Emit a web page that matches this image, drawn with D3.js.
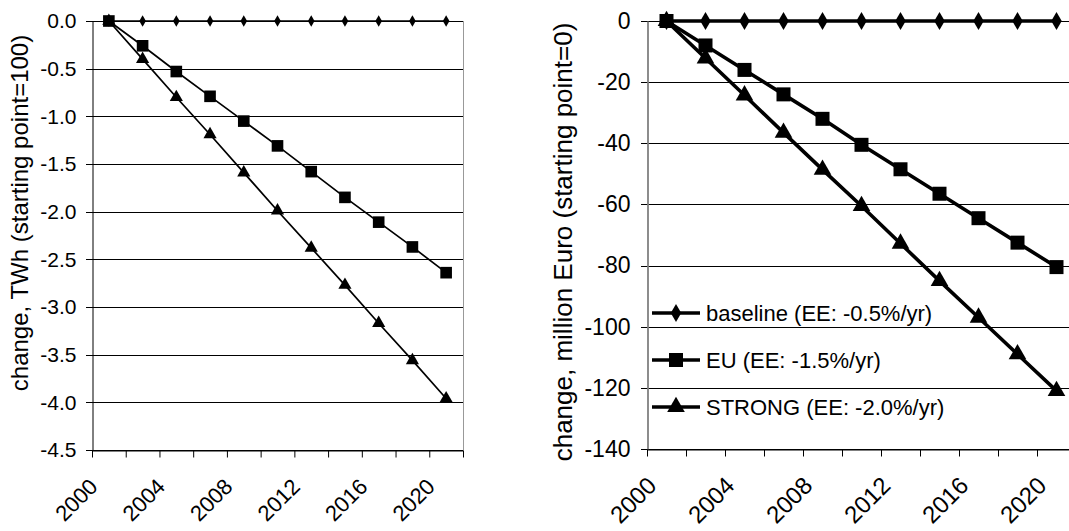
<!DOCTYPE html>
<html>
<head>
<meta charset="utf-8">
<script src="https://cdn.jsdelivr.net/npm/d3@7"></script>
<style>
  body { margin: 0; background: #fff; }
  text { font-family: "Liberation Sans", Arial, sans-serif; fill: #000; }
</style>
</head>
<body>
<div id="chart"></div>
<script>
let years = [2001, 2003, 2005, 2007, 2009, 2011, 2013, 2015, 2017, 2019, 2021]
let xTicks = [2000, 2002, 2004, 2006, 2008, 2010, 2012, 2014, 2016, 2018, 2020, 2022]
let xLabels = [2000, 2004, 2008, 2012, 2016, 2020]

// left panel: electricity, TWh
let twhBaseline = [0, 0, 0, 0, 0, 0, 0, 0, 0, 0, 0]
let twhEU = [0, -0.26, -0.53, -0.79, -1.05, -1.31, -1.58, -1.85, -2.11, -2.37, -2.64]
let twhStrong = [0, -0.40, -0.80, -1.19, -1.59, -1.99, -2.38, -2.77, -3.17, -3.56, -3.96]
let twhTicks = [0, -0.5, -1, -1.5, -2, -2.5, -3, -3.5, -4, -4.5]

// right panel: cost, million Euro
let eurBaseline = [0, 0, 0, 0, 0, 0, 0, 0, 0, 0, 0]
let eurEU = [0, -8, -16, -24, -32, -40.5, -48.5, -56.5, -64.5, -72.5, -80.5]
let eurStrong = [0, -12.2, -24.3, -36.5, -48.6, -60.5, -72.8, -85, -97, -109, -121]
let eurTicks = [0, -20, -40, -60, -80, -100, -120, -140]

let seriesNames = ["baseline (EE: -0.5%/yr)", "EU (EE: -1.5%/yr)", "STRONG (EE: -2.0%/yr)"]
let markers = [d3.symbolDiamond, d3.symbolSquare, d3.symbolTriangle]

let width = 1069
let height = 531
let svg = d3.select("#chart")
    .append("svg")
    .attr("width", width)
    .attr("height", height)

function hyphen(fmt) {
    return d => fmt(d).replace("\u2212", "-")
}

function drawPanel(opt) {
    let x = d3.scaleLinear().domain([2000, 2022]).range([opt.left, opt.right])
    let y = d3.scaleLinear().domain(opt.yDomain).range([opt.bottom, opt.top])
    let g = svg.append("g")

    // gridlines, running a little past the axis as tick marks
    g.selectAll(".grid")
        .data(opt.yTicks)
        .enter()
        .append("line")
        .attr("x1", opt.left - 6)
        .attr("x2", opt.gridEnd)
        .attr("y1", d => Math.round(y(d)) + 0.5)
        .attr("y2", d => Math.round(y(d)) + 0.5)
        .attr("stroke", "#000")
        .attr("stroke-width", 1)

    if (opt.rightBorder) {
        g.append("line")
            .attr("x1", opt.right + 0.5).attr("x2", opt.right + 0.5)
            .attr("y1", opt.top).attr("y2", opt.bottom)
            .attr("stroke", "#999")
    }

    // y axis
    let yAxis = d3.axisLeft(y)
        .tickValues(opt.yTicks)
        .tickSize(0)
        .tickPadding(opt.labelPad)
        .tickFormat(hyphen(opt.yFormat))
    let ya = g.append("g")
        .attr("transform", "translate(" + (opt.left + 0.5) + ",0)")
        .call(yAxis)
    ya.select(".domain").attr("stroke", opt.axisColor).attr("stroke-width", opt.axisWidth)
    ya.selectAll("text")
        .attr("font-family", null)
        .style("font-size", opt.tickFont + "px")

    // x axis
    let xAxis = d3.axisBottom(x)
        .tickValues(xTicks)
        .tickSize(7)
        .tickSizeOuter(0)
        .tickFormat("")
    let xa = g.append("g")
        .attr("transform", "translate(0," + (opt.bottom + 0.5) + ")")
        .call(xAxis)
    xa.selectAll("line").attr("stroke", "#000")
    xa.select(".domain").attr("stroke", "#000")

    g.selectAll(".xlab")
        .data(xLabels)
        .enter()
        .append("text")
        .attr("text-anchor", "end")
        .style("font-size", opt.xFont + "px")
        .attr("transform", d => "translate(" + (x(d) + opt.xLabDx) + "," + (opt.bottom + opt.xLabDy) + ") rotate(-45)")
        .text(d => d)

    // y title
    g.append("text")
        .attr("text-anchor", "middle")
        .style("font-size", opt.titleFont + "px")
        .attr("transform", "translate(" + opt.titleX + "," + opt.titleY + ") rotate(-90)")
        .text(opt.title)

    let line = d3.line()
        .x((d, i) => x(years[i]))
        .y(d => y(d))

    opt.series.forEach((s, k) => {
        g.append("path")
            .datum(s)
            .attr("d", line)
            .attr("fill", "none")
            .attr("stroke", "#000")
            .attr("stroke-width", opt.lineWidth)
        g.selectAll(".m" + k)
            .data(s)
            .enter()
            .append("path")
            .attr("d", d3.symbol().type(markers[k]).size(opt.markerSize[k]))
            .attr("transform", (d, i) => "translate(" + x(years[i]) + "," + y(d) + ")")
            .attr("fill", "#000")
    })
    return g
}

drawPanel({
    left: 92, right: 463, top: 21, bottom: 450, gridEnd: 463,
    yDomain: [-4.5, 0], yTicks: twhTicks, yFormat: d3.format(".1f"),
    axisColor: "#000", axisWidth: 1, labelPad: 16, rightBorder: true,
    tickFont: 21, xFont: 22, xLabDx: 7, xLabDy: 38,
    title: "change, TWh (starting point=100)", titleFont: 24, titleX: 28, titleY: 213,
    series: [twhBaseline, twhEU, twhStrong],
    lineWidth: 1.7, markerSize: [38, 135, 75]
})

let right = drawPanel({
    left: 647, right: 1076, top: 21, bottom: 449, gridEnd: 1069,
    yDomain: [-140, 0], yTicks: eurTicks, yFormat: d3.format("d"),
    axisColor: "#808080", axisWidth: 1.8, labelPad: 17, rightBorder: false,
    tickFont: 23, xFont: 24, xLabDx: 11, xLabDy: 38,
    title: "change, million Euro (starting point=0)", titleFont: 26, titleX: 572, titleY: 242,
    series: [eurBaseline, eurEU, eurStrong],
    lineWidth: 3.6, markerSize: [95, 196, 135]
})

// legend inside right panel
let legendSizes = [95, 196, 135]
let legend = right.selectAll(".legend")
    .data(seriesNames)
    .enter()
    .append("g")
    .attr("transform", (d, i) => "translate(652," + (313 + i * 47) + ")")
legend.append("line")
    .attr("x1", 0).attr("x2", 48)
    .attr("stroke", "#000").attr("stroke-width", 3.6)
legend.append("path")
    .attr("d", (d, i) => d3.symbol().type(markers[i]).size(legendSizes[i])())
    .attr("transform", "translate(24,0)")
legend.append("text")
    .attr("x", 54)
    .attr("dy", "0.36em")
    .style("font-size", "22px")
    .text(d => d)
</script>
</body>
</html>
